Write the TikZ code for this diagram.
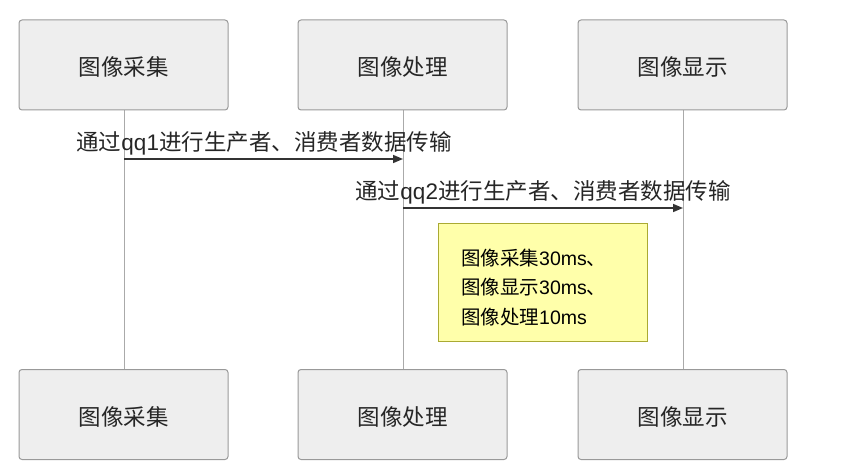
\documentclass[tikz,border=0pt]{standalone}
\usepackage{fontspec}
\setmainfont{Noto Sans CJK SC}
\newfontfamily\latf{Liberation Sans}
\newcommand{\lt}[1]{{\latf #1}}
\usetikzlibrary{arrows.meta}
\definecolor{boxfill}{HTML}{EEEEEE}
\definecolor{boxline}{HTML}{999999}
\definecolor{lifeline}{HTML}{AAAAAA}
\definecolor{msgline}{HTML}{333333}
\definecolor{notefill}{HTML}{FFFFAA}
\definecolor{noteline}{HTML}{AAAA33}
\tikzset{
  actor/.style={draw=boxline, fill=boxfill, rounded corners=3pt, line width=1pt,
    minimum width=209pt, minimum height=90pt, inner sep=0pt,
    text height=22pt, text depth=0pt,
    font=\fontsize{22.5}{26}\selectfont, text=black!85},
  life/.style={draw=lifeline, line width=1pt},
  msg/.style={draw=msgline, line width=1.5pt, -{Triangle[length=10pt,width=8pt]}},
  msglabel/.style={font=\fontsize{22.5}{26}\selectfont, text=black!85, inner sep=0pt, anchor=base},
  note/.style={draw=noteline, fill=notefill, line width=1pt,
    minimum width=209pt, minimum height=118pt, inner sep=0pt},
  notetext/.style={font=\fontsize{19.5}{23}\selectfont, text=black, inner sep=0pt, anchor=base west}
}
\begin{document}
\begin{tikzpicture}[x=1pt,y=-1pt]
\useasboundingbox (0,0) rectangle (865,476);
% lifelines
\coordinate (l1t) at (124,110); \coordinate (l1b) at (124,369);
\coordinate (l2t) at (403,110); \coordinate (l2b) at (403,369);
\coordinate (l3t) at (683,110); \coordinate (l3b) at (683,369);
\draw[life] (l1t) -- (l1b);
\draw[life] (l2t) -- (l2b);
\draw[life] (l3t) -- (l3b);
% actors top
\node[actor] (a1) at (123.5,65) {图像采集};
\node[actor] (a2) at (402.5,65) {图像处理};
\node[actor] (a3) at (682.5,65) {图像显示};
% actors bottom
\node[actor] (b1) at (123.5,414.5) {图像采集};
\node[actor] (b2) at (402.5,414.5) {图像处理};
\node[actor] (b3) at (682.5,414.5) {图像显示};
% messages
\coordinate (m1s) at (124,159); \coordinate (m1e) at (403,159);
\draw[msg] (m1s) -- (m1e);
\node[msglabel] (t1) at (264,150) {通过\lt{qq1}进行生产者、消费者数据传输};
\coordinate (m2s) at (403,208); \coordinate (m2e) at (683,208);
\draw[msg] (m2s) -- (m2e);
\node[msglabel] (t2) at (543,199.5) {通过\lt{qq2}进行生产者、消费者数据传输};
% note
\node[note] (n) at (542.5,282) {};
\node[notetext] (n1) at (461,265) {图像采集\lt{30ms}、};
\node[notetext] (n2) at (461,294) {图像显示\lt{30ms}、};
\node[notetext] (n3) at (461,324) {图像处理\lt{10ms}};
\end{tikzpicture}
\end{document}
